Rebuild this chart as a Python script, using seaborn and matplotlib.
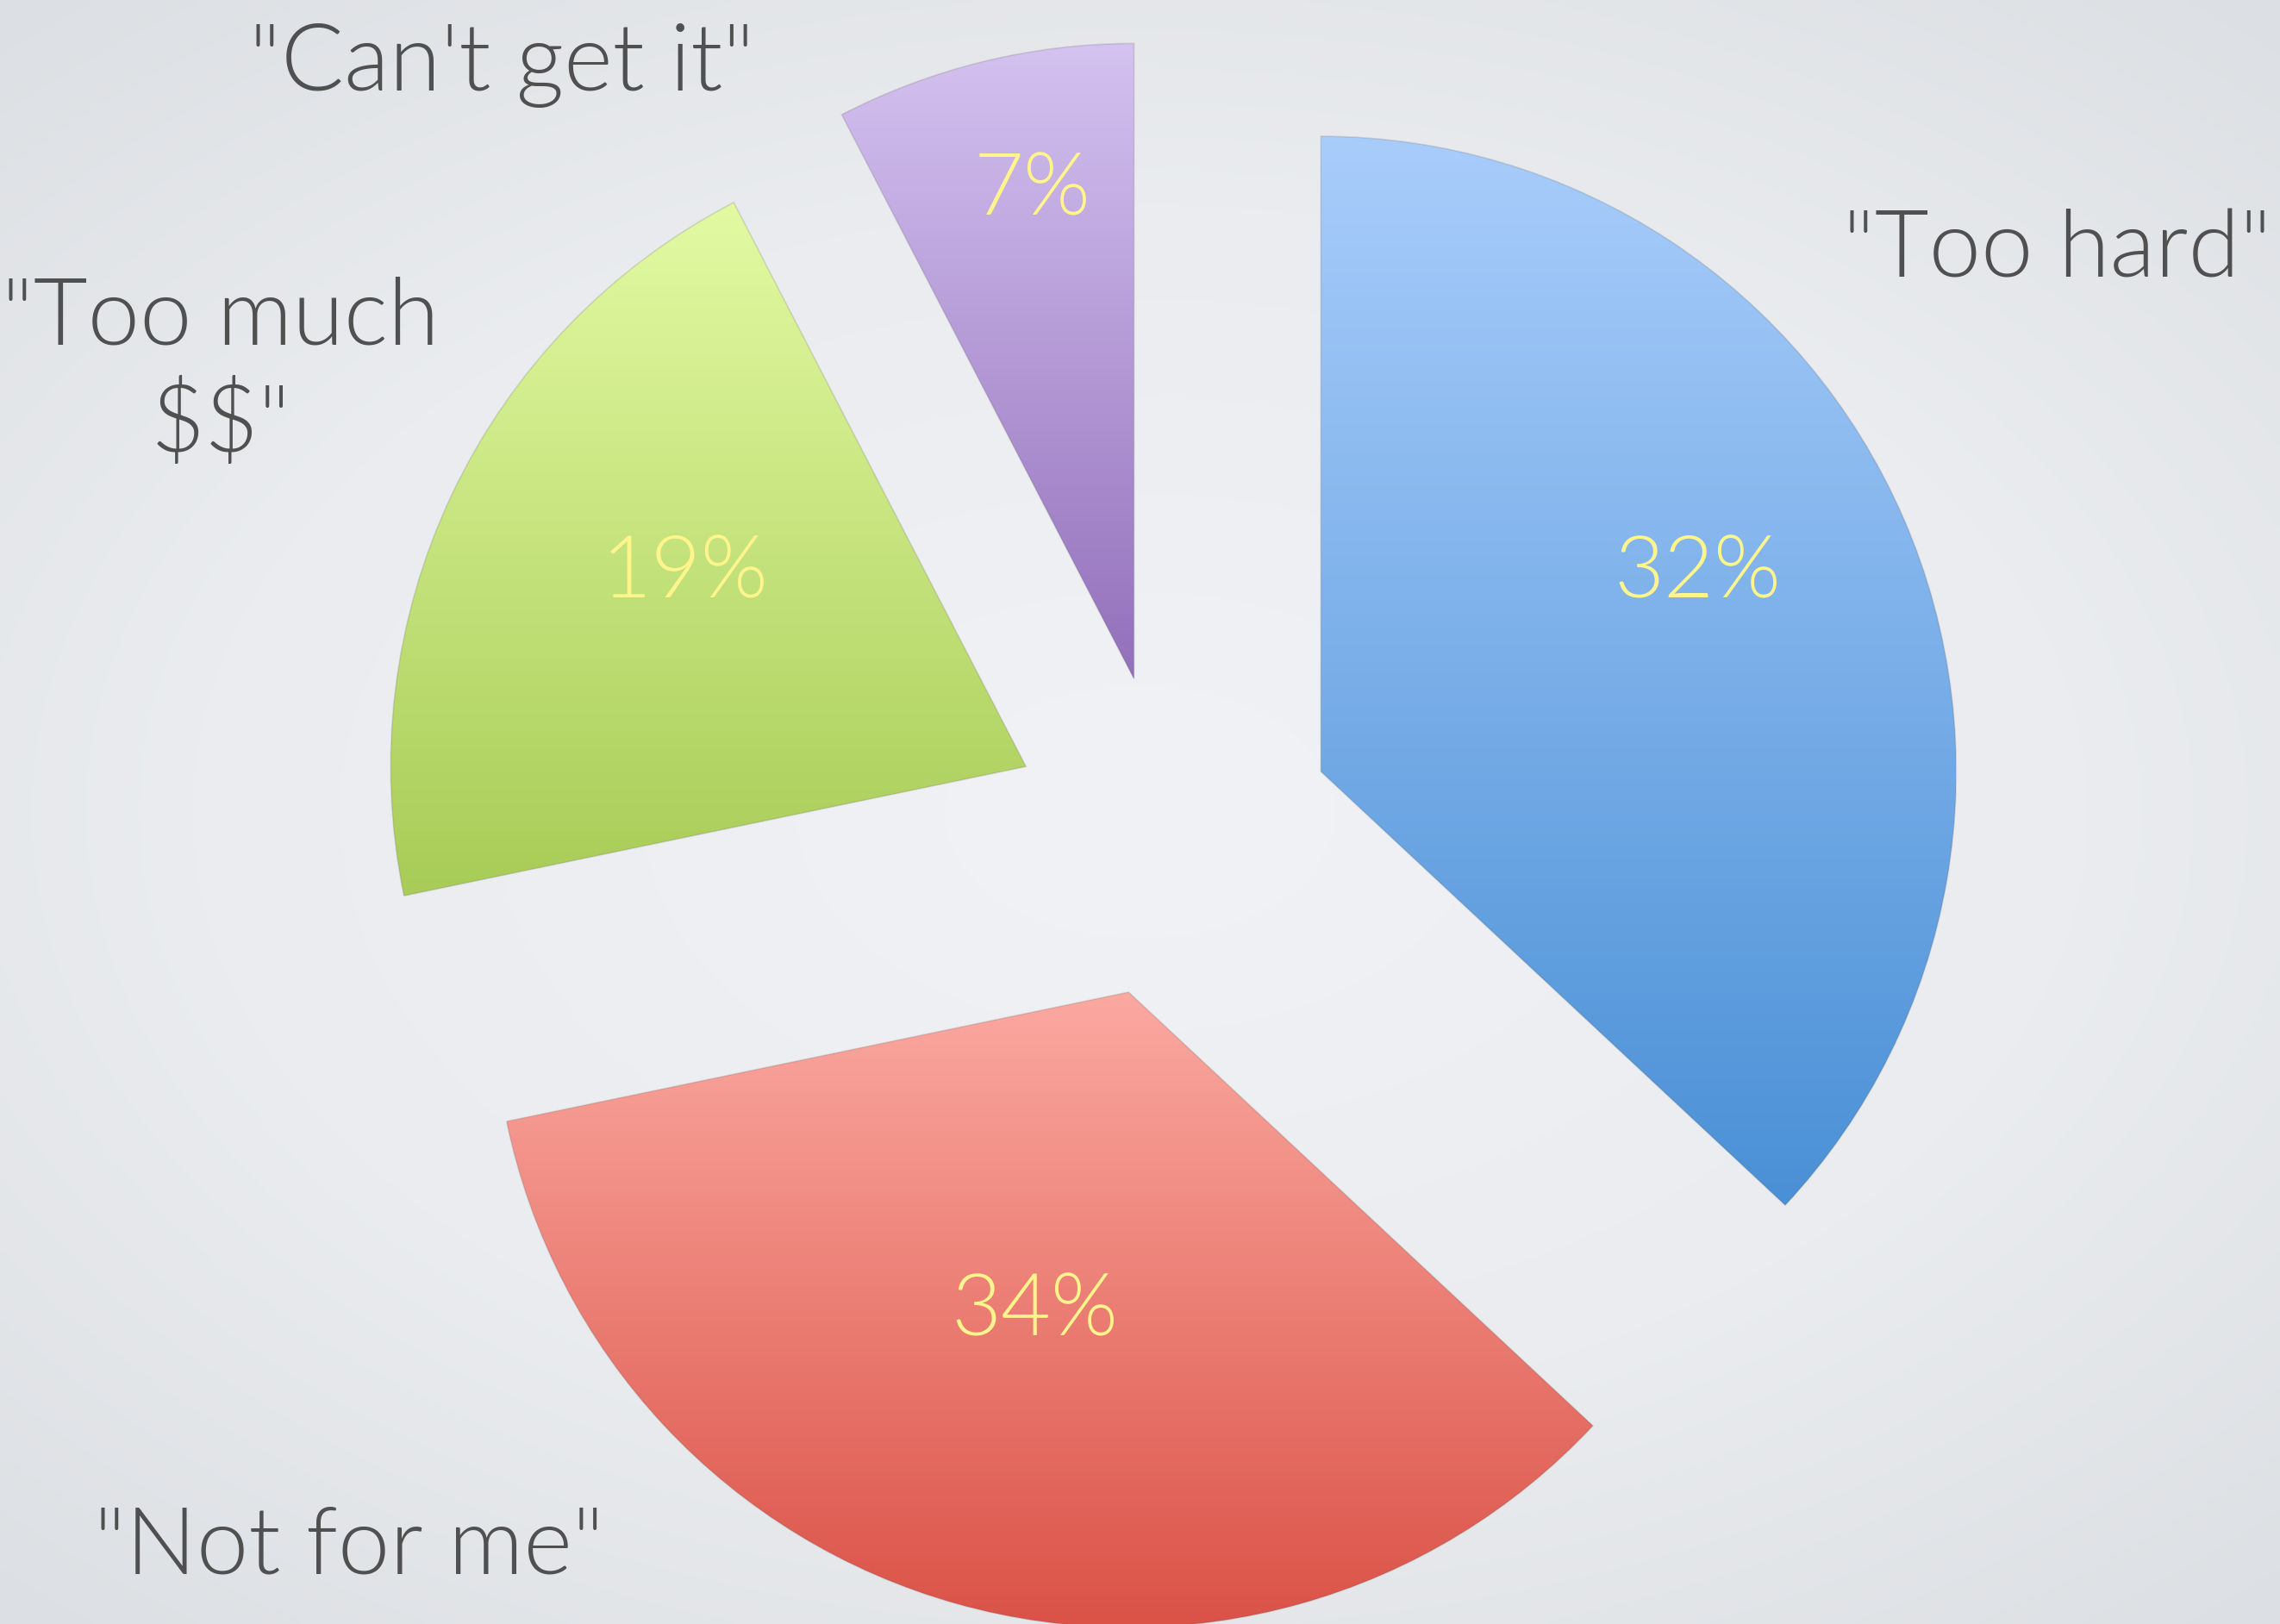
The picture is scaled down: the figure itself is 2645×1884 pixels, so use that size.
import numpy as np
import seaborn as sns
from matplotlib import pyplot as plt

# wedge sizes as drawn (clockwise from 12 o'clock) and the texts printed on them
reasons = ['"Too hard"', '"Not for me"', '"Too much\n$$"', '"Can\'t get it"']
sizes = [34, 32, 19, 7]
pct_labels = ["32%", "34%", "19%", "7%"]

# top / bottom colours of each wedge's vertical gradient
top_colors = ["#a9cdfb", "#fba9a1", "#e3faa3", "#d4c2f0"]
bottom_colors = ["#4a90d6", "#db5247", "#a8cc57", "#9370bb"]

W, H = 2645, 1884
center_px = (1360, 970)     # pie centre in pixels (from top-left)
radius_px = 737
explode_frac = 0.255

# text anchors in pixels (from top-left)
reason_xy = [(2387, 321), (405, 1825), (256, 432), (582, 105)]
reason_va = ["baseline", "baseline", "center", "baseline"]
pct_xy = [(1969, 666), (1200, 1522), (795, 666), (1198, 221)]

sns.set_theme(style="white")
plt.rcParams["font.family"] = ["Lato", "DejaVu Sans"]

fig = plt.figure(figsize=(W / 100, H / 100), dpi=100)
ax = fig.add_axes([0, 0, 1, 1])

# data units = pie radius, origin at the pie centre
x0 = -center_px[0] / radius_px
x1 = (W - center_px[0]) / radius_px
y0 = -(H - center_px[1]) / radius_px
y1 = center_px[1] / radius_px

# soft radial background
gx, gy = np.meshgrid(np.linspace(-1, 1, 400), np.linspace(-1, 1, 300))
dist = np.sqrt((gx * 0.9) ** 2 + (gy * 1.0) ** 2)
bg_cmap = sns.blend_palette(["#f0f1f4", "#eaecef", "#dcdfe3"], as_cmap=True)
ax.imshow(dist, cmap=bg_cmap, extent=(x0, x1, y0, y1), aspect="auto",
          vmin=0.15, vmax=1.35, zorder=0, interpolation="bicubic")

wedges, _ = ax.pie(sizes, radius=1, center=(0, 0), startangle=90,
                   counterclock=False, explode=[explode_frac] * len(sizes),
                   wedgeprops=dict(linewidth=1.2, edgecolor=(0.35, 0.35, 0.35, 0.18)),
                   frame=True)
ax.set_xlim(x0, x1)
ax.set_ylim(y0, y1)
ax.set_aspect("auto")
ax.set_axis_off()

grad = np.linspace(0, 1, 256).reshape(-1, 1)
for w, top, bottom in zip(wedges, top_colors, bottom_colors):
    w.set_facecolor("none")
    w.set_zorder(3)
    bb = w.get_path().get_extents()
    cmap = sns.blend_palette([top, bottom], as_cmap=True)
    im = ax.imshow(grad, cmap=cmap, extent=(bb.x0, bb.x1, bb.y0, bb.y1),
                   aspect="auto", origin="upper", zorder=2)
    im.set_clip_path(w)

for text, (px, py), va in zip(reasons, reason_xy, reason_va):
    fig.text(px / W, 1 - py / H, text, ha="center", va=va, fontsize=78,
             fontweight=300, color="#505050", linespacing=1.25,
             parse_math=False)

for text, (px, py) in zip(pct_labels, pct_xy):
    fig.text(px / W, 1 - py / H, text, ha="center", va="center", fontsize=72,
             fontweight=300, color="#fff58c", zorder=5)

fig.savefig("out.png", dpi=100)
